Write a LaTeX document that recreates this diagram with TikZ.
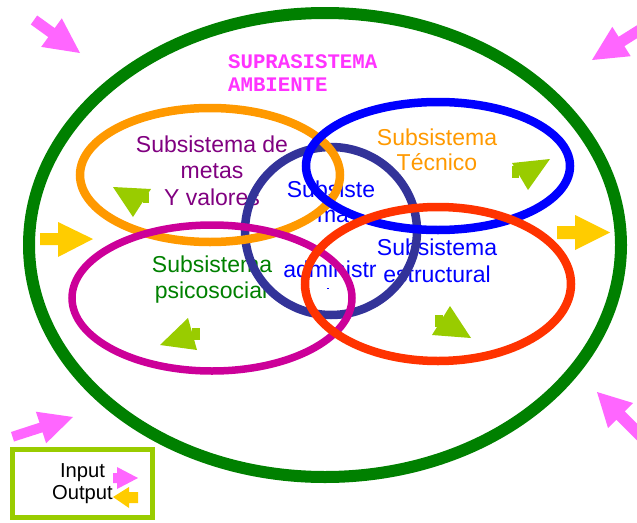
\documentclass[tikz,border=0pt]{standalone}
\usepackage{fontspec}
\setmainfont{Liberation Sans}
\newfontfamily\monobold{Liberation Mono}[BoldFont={* Bold}]
\definecolor{cgreen}{HTML}{008000}
\definecolor{corange}{HTML}{FF9900}
\definecolor{cblue}{HTML}{0000FF}
\definecolor{cred}{HTML}{FF3300}
\definecolor{cmag}{HTML}{CC0099}
\definecolor{cnavy}{HTML}{333399}
\definecolor{cpink}{HTML}{FF66FF}
\definecolor{cpinktxt}{HTML}{FF33FF}
\definecolor{cyellow}{HTML}{FFCC00}
\definecolor{clime}{HTML}{99CC00}
\definecolor{cpurple}{HTML}{800080}
\tikzset{
  lbl/.style={inner sep=0pt, anchor=base, font=\fontsize{23}{26}\selectfont},
  ring/.style={line width=8.5pt},
  parrow/.style={fill=cpink, draw=none},
  yarrow/.style={fill=cyellow, draw=none},
  garrow/.style={fill=clime, draw=none},
}
\begin{document}
\begin{tikzpicture}[x=1pt,y=-1pt]
\useasboundingbox (0,0) rectangle (637,522);
% texts (beneath rings)
\node[lbl, anchor=base west, text=cpinktxt, font=\monobold\bfseries\fontsize{20.7}{23}\selectfont] (supra1) at (228,68) {SUPRASISTEMA};
\node[lbl, anchor=base west, text=cpinktxt, font=\monobold\bfseries\fontsize{20.7}{23}\selectfont] (supra2) at (228,91) {AMBIENTE};
\node[lbl, text=cpurple] (m1) at (212,152) {Subsistema de};
\node[lbl, text=cpurple] (m2) at (212,178) {metas};
\node[lbl, text=cpurple] (m3) at (212,205) {Y valores};
\node[lbl, text=corange] (t1) at (437,145) {Subsistema};
\node[lbl, text=corange] (t2) at (437,170) {Técnico};
\node[lbl, text=cblue] (a1) at (331,197) {Subsiste};
\node[lbl, text=cblue] (a2) at (333,222) {ma};
\node[lbl, text=cblue] (a3) at (330,277) {administr};
\node[inner sep=0pt, fill=cblue, minimum width=2pt, minimum height=1pt] (a4) at (328,288) {};
\node[lbl, text=cgreen] (p1) at (212,272) {Subsistema};
\node[lbl, text=cgreen] (p2) at (211,298) {psicosocial};
\node[lbl, text=cblue] (e1) at (437,255) {Subsistema};
\node[lbl, text=cblue] (e2) at (437,282) {estructural};
% rings
\draw[cgreen, line width=12pt] (325,245) ellipse [x radius=296, y radius=232];
\draw[cnavy, ring] (331,231) ellipse [x radius=86, y radius=84];
\draw[corange, ring] (210,175) ellipse [x radius=130, y radius=67];
\draw[cblue, ring] (438,166) ellipse [x radius=132, y radius=64];
\draw[cmag, line width=7.5pt] (212,298) ellipse [x radius=140, y radius=73];
\draw[cred, ring] (438,284) ellipse [x radius=133, y radius=77];
% pink input arrows
\fill[parrow] (37.2,15.5) -- (54.7,28.1) -- (61.8,18.3) -- (80,53) -- (41.2,46.9) -- (48.3,37.1) -- (30.8,24.5) -- cycle;
\fill[parrow] (639.8,23.5) -- (618.6,36.8) -- (612.3,26.8) -- (592,60) -- (630.7,56.2) -- (624.4,46.2) -- (645.6,32.9) -- cycle;
\fill[parrow] (11,432) -- (39.5,422.7) -- (35.9,411.7) -- (73,417) -- (46.1,443.3) -- (42.6,432.3) -- (14,441.5) -- cycle;
\fill[parrow] (645.9,432.5) -- (624.7,411.3) -- (633,403) -- (597,392) -- (608,428) -- (616.3,419.7) -- (637.5,440.9) -- cycle;
% yellow output arrows
\fill[yarrow] (40,233) -- (58,233) -- (58,222) -- (93,239) -- (58,257) -- (58,245) -- (40,245) -- cycle;
\fill[yarrow] (557,226) -- (575,226) -- (575,215) -- (610,232.5) -- (575,250) -- (575,239) -- (557,239) -- cycle;
% green internal arrows
\fill[garrow] (113,187) -- (151,189) -- (133,217) -- cycle;
\fill[garrow] (143,193) rectangle (149,203);
\fill[garrow] (512,163) -- (550,159) -- (528,190) -- cycle;
\fill[garrow] (512,166) rectangle (519,178);
\fill[garrow] (432,335) -- (450,306) -- (471,338) -- cycle;
\fill[garrow] (435,315) rectangle (443,327);
\fill[garrow] (160,345) -- (188,318) -- (197,350) -- cycle;
\fill[garrow] (192,328) rectangle (200,340);
% legend
\draw[clime, line width=5pt] (12.5,449.5) rectangle (152.5,517.5);
\node[lbl, font=\fontsize{20.2}{23}\selectfont] (inp) at (82.5,477) {Input};
\node[lbl, font=\fontsize{20.2}{23}\selectfont] (outp) at (82.5,499) {Output};
\fill[parrow] (113,473) -- (117,473) -- (117,467) -- (138,478) -- (117,489) -- (117,483) -- (113,483) -- cycle;
\fill[yarrow] (113,497) -- (129,487) -- (129,492) -- (138,492) -- (138,503) -- (129,503) -- (129,508) -- cycle;
\end{tikzpicture}
\end{document}
